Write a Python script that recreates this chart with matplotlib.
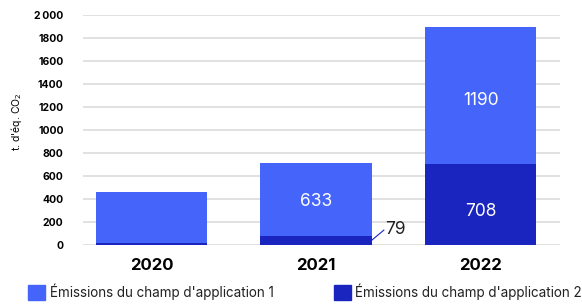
import matplotlib.pyplot as plt
import numpy as np

years = ["2020", "2021", "2022"]
scope1 = [441, 633, 1190]
scope2 = [20, 79, 708]
yticks = [0, 200, 400, 600, 800, 1000, 1200, 1400, 1600, 1800, 2000]
ytick_labels = ["0", "200", "400", "600", "800", "1000", "1200", "1400", "1600", "1800", "2\u2009000"]

c1 = "#4564FA"
c2 = "#1A25BF"

plt.rcParams['font.family'] = ['Inter', 'DejaVu Sans']

fig = plt.figure(figsize=(5.82, 3.04), dpi=100)
ax = fig.add_axes([83 / 582, 59 / 304, 477 / 582, 230 / 304])

x = np.arange(len(years))
w = 0.675
ax.bar(x, scope2, w, color=c2, zorder=3)
ax.bar(x, scope1, w, bottom=scope2, color=c1, zorder=3)

# value labels (nudged down a little like the source)
ax.text(x[1], scope2[1] + scope1[1] / 2 - 15, str(scope1[1]), color="white",
        ha="center", va="center", fontsize=12.5)
ax.text(x[2], scope2[2] + scope1[2] / 2 - 50, str(scope1[2]), color="white",
        ha="center", va="center", fontsize=12.5)
ax.text(x[2], scope2[2] / 2 - 60, str(scope2[2]), color="white",
        ha="center", va="center", fontsize=12.5)
# leader line for small value
ax.plot([x[1] + w / 2, x[1] + w / 2 + 0.075], [scope2[1] / 2, scope2[1] / 2 + 90],
        color=c2, lw=0.8, zorder=4, clip_on=False)
ax.text(x[1] + w / 2 + 0.085, scope2[1] / 2 + 95, str(scope2[1]), color="#222222",
        ha="left", va="center", fontsize=12.5)

ax.set_xlim(-0.416, 2.483)
ax.set_ylim(0, 2000)
ax.set_yticks(yticks)
ax.set_yticklabels(ytick_labels, fontsize=7.5, fontweight="bold")
ax.set_xticks(x)
ax.set_xticklabels(years, fontsize=12, fontweight="bold")
ax.tick_params(axis="y", length=0, pad=14)
ax.tick_params(axis="x", length=0, pad=9)

ax.yaxis.grid(True, color="#dcdcdc", lw=1.2, zorder=0)
ax.set_axisbelow(True)
for s in ax.spines.values():
    s.set_visible(False)

fig.text(17 / 582, 1 - 122 / 304, "t. d'éq. CO$_2$", rotation=90, ha="center", va="center",
         fontsize=7.5)

# legend
fig.patches.append(plt.Rectangle((28 / 582, 4 / 304), 17 / 582, 15 / 304, color=c1,
                                 transform=fig.transFigure, figure=fig))
fig.text(50 / 582, 12 / 304, "Émissions du champ d'application 1", ha="left", va="center",
         fontsize=9.7, color="#222222")
fig.patches.append(plt.Rectangle((334 / 582, 4 / 304), 17 / 582, 15 / 304, color=c2,
                                 transform=fig.transFigure, figure=fig))
fig.text(355 / 582, 12 / 304, "Émissions du champ d'application 2", ha="left", va="center",
         fontsize=9.7, color="#222222")

fig.savefig("out.png", dpi=100)
